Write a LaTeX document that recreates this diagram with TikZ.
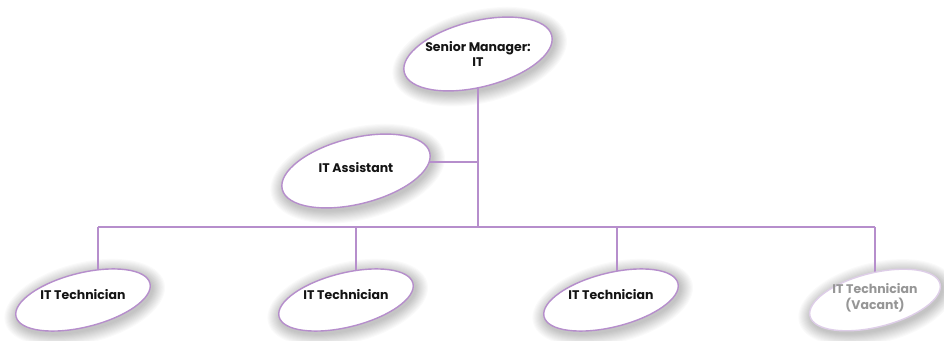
\documentclass[tikz,border=0pt]{standalone}
\usepackage{fontspec}
\setmainfont{Poppins}
\usetikzlibrary{shapes.geometric}
\pgfdeclarelayer{glow}
\pgfdeclarelayer{wires}
\pgfsetlayers{glow,wires,main}

\definecolor{orgline}{RGB}{182,142,204}
\definecolor{vacline}{RGB}{222,206,232}
\definecolor{vactext}{RGB}{150,150,150}
\definecolor{lbltext}{RGB}{20,20,20}

\tikzset{
  role/.style={ellipse, draw=orgline, line width=1.4pt, fill=white,
    inner sep=0pt, rotate=14},
  bigrole/.style={role, minimum width=152pt, minimum height=66pt},
  techrole/.style={role, minimum width=138pt, minimum height=54pt},
  vacant/.style={draw=vacline},
  lbl/.style={font=\bfseries\fontsize{12.5}{15.5}\selectfont, text=lbltext,
    align=center, inner sep=0pt},
  vaclbl/.style={lbl, text=vactext},
  wire/.style={draw=orgline, line width=1.6pt},
}

% soft grey halo beneath a tilted ellipse: centre, half axes
\newcommand{\halo}[4]{%
  \begin{pgfonlayer}{glow}
    \foreach \k in {1,...,12}
      \fill[black, opacity=0.02, rotate around={14:(#1,#2)}]
        (#1+1,#2-3) ellipse ({#3+\k*1.1} and {#4+\k*1.1});
  \end{pgfonlayer}}

\begin{document}
\begin{tikzpicture}[x=1pt, y=1pt]
  \useasboundingbox (0,0) rectangle (944,340);
  \begin{pgfonlayer}{glow}
    \fill[white] (0,0) rectangle (944,340);
  \end{pgfonlayer}

  % roles
  \halo{478}{286}{76}{33}
  \node[bigrole] (sm) at (478,286) {};
  \node[lbl] (smt) at (sm.center) {Senior Manager:\\IT};

  \halo{356}{169}{76}{33}
  \node[bigrole] (ast) at (356,169) {};
  \node[lbl] (astt) at ([yshift=3pt]ast.center) {IT Assistant};

  \halo{83}{40}{69}{27}
  \node[techrole] (t1) at (83,40) {};
  \node[lbl] (t1t) at ([yshift=5pt]t1.center) {IT Technician};

  \halo{346}{40}{69}{27}
  \node[techrole] (t2) at (346,40) {};
  \node[lbl] (t2t) at ([yshift=5pt]t2.center) {IT Technician};

  \halo{611}{40}{69}{27}
  \node[techrole] (t3) at (611,40) {};
  \node[lbl] (t3t) at ([yshift=5pt]t3.center) {IT Technician};

  \halo{875}{40}{67}{27}
  \node[techrole, vacant, minimum width=134pt] (t4) at (875,40) {};
  \node[vaclbl] (t4t) at ([yshift=2pt]t4.center) {IT Technician\\(Vacant)};

  % connector junctions
  \coordinate (aj) at (478,178);
  \coordinate (bus) at (478,113);
  \coordinate (b1) at (98,113);
  \coordinate (b2) at (356,113);
  \coordinate (b3) at (617,113);
  \coordinate (b4) at (875,113);

  \begin{pgfonlayer}{wires}
    \draw[wire] (sm.center) -- (bus);
    \draw[wire] (aj) -- (aj -| ast.center);
    \draw[wire] (b1) -- (b4);
    \draw[wire] (b1) -- (b1 |- t1.center);
    \draw[wire] (b2) -- (b2 |- t2.center);
    \draw[wire] (b3) -- (b3 |- t3.center);
    \draw[wire] (b4) -- (b4 |- t4.center);
  \end{pgfonlayer}
\end{tikzpicture}
\end{document}
